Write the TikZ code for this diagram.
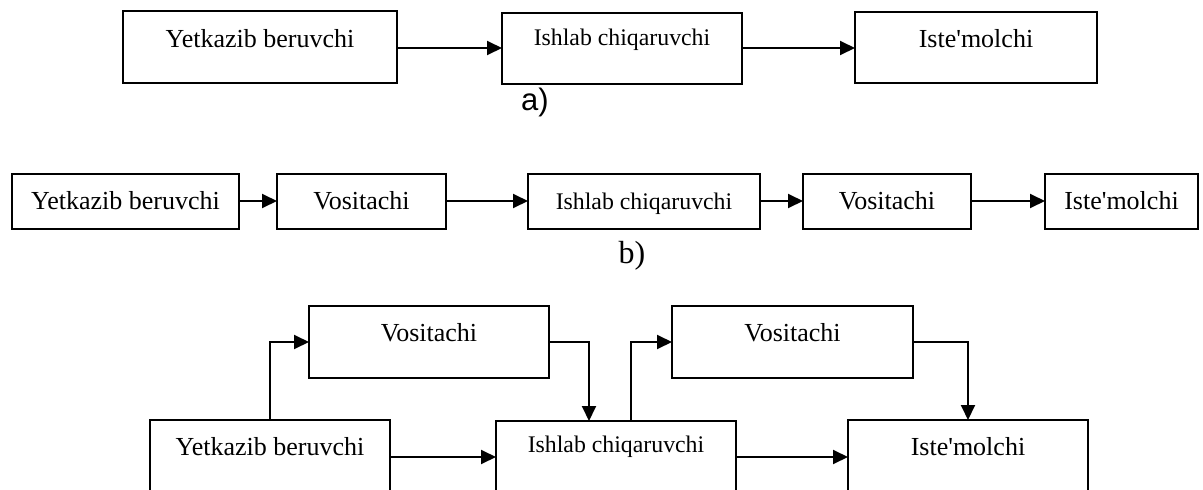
\documentclass[tikz,border=0pt]{standalone}
\usepackage{fontspec}
\setmainfont{Liberation Serif}
\newfontfamily\serf{Liberation Serif}
\newfontfamily\labsans{Liberation Sans}
\usetikzlibrary{arrows.meta}
\newcommand{\apos}{\textquotesingle}
\begin{document}
\begin{tikzpicture}[x=1pt,y=-1pt,
  box/.style={draw, line width=1.3pt, rectangle, inner sep=0pt, outer sep=0pt},
  txt/.style={anchor=base, inner sep=0pt, font=\serf\fontsize{26}{30}\selectfont},
  txts/.style={anchor=base, inner sep=0pt, font=\serf\fontsize{23.8}{28}\selectfont},
  arr/.style={line width=1.9pt, -{Triangle[length=15pt,width=14pt]}}]
\useasboundingbox (0,0) rectangle (1203,490);
\clip (0,0) rectangle (1203,490);
% ---------- row a ----------
\node[box, minimum width=274pt, minimum height=72pt] (a1) at (260,47) {};
\node[box, minimum width=240pt, minimum height=71pt] (a2) at (622,48.5) {};
\node[box, minimum width=242pt, minimum height=71pt] (a3) at (976,47.5) {};
\node[txt]  (ta1) at ([yshift=-36pt]a1.north) {Yetkazib beruvchi};
\node[txts] (ta2) at ([yshift=-32pt]a2.north) {Ishlab chiqaruvchi};
\node[txt]  (ta3) at ([yshift=-35pt]a3.north) {Iste\apos molchi};
\coordinate (ya) at (0,48);
\draw[arr] (a1.east |- ya) -- (a2.west |- ya);
\draw[arr] (a2.east |- ya) -- (a3.west |- ya);
\node[inner sep=0pt, font=\labsans\fontsize{31}{35}\selectfont] (la) at (535,102) {a)};
% ---------- row b ----------
\node[box, minimum width=227pt, minimum height=55pt] (b1) at (125.5,201.5) {};
\node[box, minimum width=169pt, minimum height=55pt] (b2) at (361.5,201.5) {};
\node[box, minimum width=232pt, minimum height=55pt] (b3) at (644,201.5) {};
\node[box, minimum width=168pt, minimum height=55pt] (b4) at (887,201.5) {};
\node[box, minimum width=153pt, minimum height=55pt] (b5) at (1121.5,201.5) {};
\node[txt]  (tb1) at ([yshift=-8pt]b1.center) {Yetkazib beruvchi};
\node[txt]  (tb2) at ([yshift=-8pt]b2.center) {Vositachi};
\node[txts] (tb3) at ([yshift=-8pt]b3.center) {Ishlab chiqaruvchi};
\node[txt]  (tb4) at ([yshift=-8pt]b4.center) {Vositachi};
\node[txt]  (tb5) at ([yshift=-8pt]b5.center) {Iste\apos molchi};
\coordinate (yb) at (0,201);
\draw[arr] (b1.east |- yb) -- (b2.west |- yb);
\draw[arr] (b2.east |- yb) -- (b3.west |- yb);
\draw[arr] (b3.east |- yb) -- (b4.west |- yb);
\draw[arr] (b4.east |- yb) -- (b5.west |- yb);
\node[inner sep=0pt, font=\serf\fontsize{32}{36}\selectfont] (lb) at (632,256) {b)};
% ---------- row c ----------
\node[box, minimum width=240pt, minimum height=72pt] (v1) at (429,342) {};
\node[box, minimum width=241pt, minimum height=72pt] (v2) at (792.5,342) {};
\node[box, minimum width=240pt, minimum height=100pt] (c1) at (270,470) {};
\node[box, minimum width=240pt, minimum height=100pt] (c2) at (616,471) {};
\node[box, minimum width=240pt, minimum height=100pt] (c3) at (968,470) {};
\node[txt]  (tv1) at ([yshift=-35pt]v1.north) {Vositachi};
\node[txt]  (tv2) at ([yshift=-35pt]v2.north) {Vositachi};
\node[txt]  (tc1) at ([yshift=-35pt]c1.north) {Yetkazib beruvchi};
\node[txts] (tc2) at ([yshift=-31pt]c2.north) {Ishlab chiqaruvchi};
\node[txt]  (tc3) at ([yshift=-35pt]c3.north) {Iste\apos molchi};
\coordinate (yc) at (0,457);
\draw[arr] (c1.north) |- (v1.west);
\draw[arr] (v1.east) -| ([xshift=-27pt]c2.north);
\draw[arr] ([xshift=15pt]c2.north) |- (v2.west);
\draw[arr] (v2.east) -| (c3.north);
\draw[arr] (c1.east |- yc) -- (c2.west |- yc);
\draw[arr] (c2.east |- yc) -- (c3.west |- yc);
\end{tikzpicture}
\end{document}
